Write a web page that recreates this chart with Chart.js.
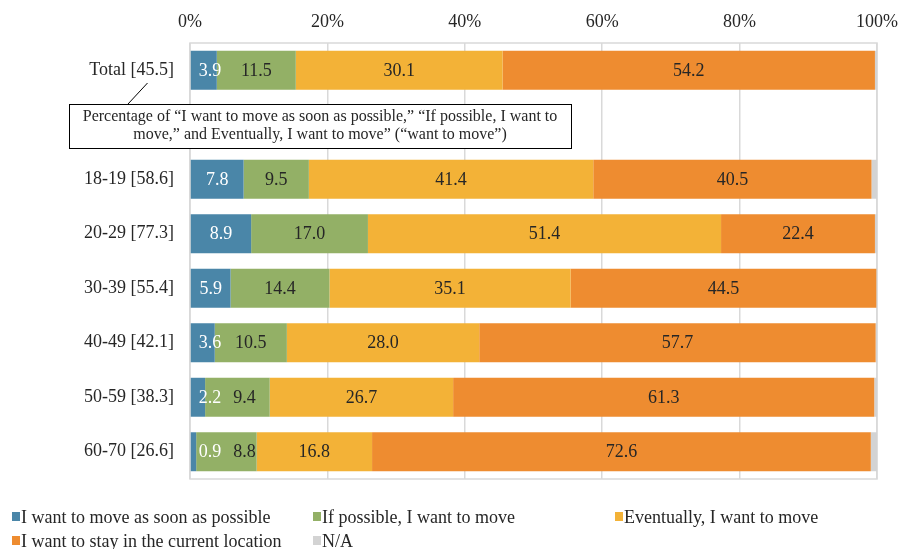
<!DOCTYPE html>
<html>
<head>
<meta charset="utf-8">
<script src="https://cdn.jsdelivr.net/npm/chart.js@4"></script>
<style>
  html, body { margin: 0; padding: 0; background: #fff; }
  #wrap { width: 902px; height: 549px; }
</style>
</head>
<body>
<div id="wrap"><canvas id="myChart" width="902" height="549"></canvas></div>
<script>
const rowLabels = ['Total [45.5]', '', '18-19 [58.6]', '20-29 [77.3]', '30-39 [55.4]', '40-49 [42.1]', '50-59 [38.3]', '60-70 [26.6]'];

const moveAsap    = [3.9, null, 7.8, 8.9, 5.9, 3.6, 2.2, 0.9];
const ifPossible  = [11.5, null, 9.5, 17.0, 14.4, 10.5, 9.4, 8.8];
const eventually  = [30.1, null, 41.4, 51.4, 35.1, 28.0, 26.7, 16.8];
const stayHere    = [54.2, null, 40.5, 22.4, 44.5, 57.7, 61.3, 72.6];
const noAnswer    = [0.3, null, 0.8, 0.3, 0.1, 0.2, 0.4, 0.9];

const tickLabels = ['0%', '20%', '40%', '60%', '80%', '100%'];

const noteLines = [
  'Percentage of \u201cI want to move as soon as possible,\u201d \u201cIf possible, I want to',
  'move,\u201d and Eventually, I want to move\u201d (\u201cwant to move\u201d)'
];

const serif = "'Liberation Serif', 'Times New Roman', serif";
const gridColor = '#d9d9d9';

const data = {
  labels: rowLabels,
  datasets: [
    { label: 'I want to move as soon as possible', data: moveAsap, backgroundColor: '#4a86a8', labelColor: '#ffffff' },
    { label: 'If possible, I want to move', data: ifPossible, backgroundColor: '#93b066', labelColor: '#262626' },
    { label: 'Eventually, I want to move', data: eventually, backgroundColor: '#f3b237', labelColor: '#262626' },
    { label: 'I want to stay in the current location', data: stayHere, backgroundColor: '#ee8c30', labelColor: '#262626' },
    { label: 'N/A', data: noAnswer, backgroundColor: '#d3d3d3', noLabel: true }
  ]
};

// frame around the plot area
const frame = {
  id: 'frame',
  beforeDatasetsDraw(chart) {
    const { ctx, chartArea: a } = chart;
    ctx.save();
    ctx.strokeStyle = gridColor;
    ctx.lineWidth = 1.5;
    ctx.strokeRect(a.left, a.top, a.right - a.left, a.bottom - a.top);
    ctx.restore();
  }
};

// value labels inside the segments, nudged right when a segment is too thin
const barValues = {
  id: 'barValues',
  afterDatasetsDraw(chart) {
    const ctx = chart.ctx;
    ctx.save();
    ctx.font = '18px ' + serif;
    ctx.textAlign = 'center';
    ctx.textBaseline = 'middle';
    rowLabels.forEach((_, i) => {
      let prevEnd = -Infinity;
      chart.data.datasets.forEach((ds, d) => {
        const v = ds.data[i];
        if (ds.noLabel || v == null) return;
        const el = chart.getDatasetMeta(d).data[i];
        const left = Math.min(el.base, el.x), right = Math.max(el.base, el.x);
        const txt = v.toFixed(1);
        const w = ctx.measureText(txt).width;
        let cx = (left + right) / 2;
        if (w + 4 > right - left) cx = left + 8 + w / 2;
        if (cx - w / 2 < prevEnd + 12) cx = prevEnd + 12 + w / 2;
        ctx.fillStyle = ds.labelColor;
        ctx.fillText(txt, cx, el.y + 1);
        prevEnd = cx + w / 2;
      });
    });
    ctx.restore();
  }
};

// callout box on the empty row + legend along the bottom
const extras = {
  id: 'extras',
  afterDraw(chart) {
    const ctx = chart.ctx;
    ctx.save();
    // leader line from the Total label
    ctx.strokeStyle = '#000';
    ctx.lineWidth = 1;
    ctx.beginPath();
    ctx.moveTo(147.5, 83);
    ctx.lineTo(128, 104);
    ctx.stroke();
    // box
    ctx.fillStyle = '#fff';
    ctx.fillRect(69, 104, 502, 44);
    ctx.strokeRect(69.5, 104.5, 502, 44);
    ctx.fillStyle = '#262626';
    ctx.font = '16px ' + serif;
    ctx.textAlign = 'center';
    ctx.textBaseline = 'middle';
    ctx.fillText(noteLines[0], 320, 117);
    ctx.fillText(noteLines[1], 320, 135);

    // legend
    const cols = [12, 313, 615];
    const rows = [517, 541];
    ctx.font = '18px ' + serif;
    ctx.textAlign = 'left';
    chart.data.datasets.forEach((ds, k) => {
      const x = cols[k % 3], y = rows[Math.floor(k / 3)];
      ctx.fillStyle = ds.backgroundColor;
      ctx.fillRect(x, y - 5, 8, 9);
      ctx.fillStyle = '#262626';
      ctx.fillText(ds.label, x + 9, y + 1);
    });
    ctx.restore();
  }
};

const config = {
  type: 'bar',
  data: data,
  options: {
    indexAxis: 'y',
    responsive: false,
    animation: false,
    layout: { padding: { left: 0, right: 25, top: 0, bottom: 70 } },
    datasets: { bar: { categoryPercentage: 1, barPercentage: 0.715, borderWidth: 0 } },
    plugins: { legend: { display: false }, tooltip: { enabled: false } },
    scales: {
      x: {
        position: 'top',
        stacked: true,
        min: 0,
        max: 100,
        afterFit(scale) {
          scale.height = 43;
          scale.paddingLeft = 0;
          scale.paddingRight = 0;
        },
        grid: { color: gridColor, lineWidth: 1.5, drawTicks: false },
        border: { display: false },
        ticks: {
          stepSize: 20,
          padding: 10,
          color: '#262626',
          font: { family: serif, size: 18 },
          callback: (v, i) => tickLabels[i]
        }
      },
      y: {
        stacked: true,
        afterFit(scale) { scale.width = 190; },
        grid: { display: false, drawTicks: false },
        border: { display: false },
        ticks: {
          padding: 16,
          color: '#262626',
          font: { family: serif, size: 18 }
        }
      }
    }
  },
  plugins: [frame, barValues, extras]
};

const myChart = new Chart(document.getElementById('myChart'), config);
</script>
</body>
</html>
